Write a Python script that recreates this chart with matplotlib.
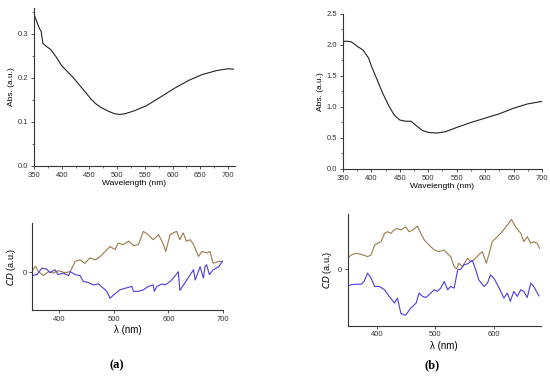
import numpy as np
import matplotlib.pyplot as plt
from matplotlib.ticker import MultipleLocator

plt.rcParams['font.family'] = ['Liberation Sans', 'DejaVu Sans']

# ---- absorbance data (a) ----
abs_a_nm = [350, 355, 360, 363, 366, 372, 380, 390, 400, 420, 440, 453, 462, 471,
            485, 495, 505, 515, 530, 553, 580, 604, 630, 654, 680, 700, 710]
abs_a_val = [0.345, 0.328, 0.312, 0.306, 0.279, 0.272, 0.265, 0.248, 0.228, 0.202,
             0.172, 0.152, 0.141, 0.133, 0.124, 0.119, 0.117, 0.119, 0.125, 0.137,
             0.158, 0.177, 0.195, 0.208, 0.217, 0.221, 0.220]

# ---- absorbance data (b) ----
abs_b_nm = [350, 358, 365, 375, 385, 395, 400, 410, 420, 430, 440, 450, 460, 470,
            480, 490, 500, 515, 530, 550, 575, 600, 625, 650, 675, 700]
abs_b_val = [2.06, 2.06, 2.05, 1.98, 1.92, 1.79, 1.66, 1.44, 1.22, 1.03, 0.87, 0.79,
             0.77, 0.77, 0.69, 0.62, 0.59, 0.58, 0.60, 0.67, 0.75, 0.82, 0.89, 0.98,
             1.05, 1.09]

# ---- CD data (a) ----
cd_a_brown_nm = [350, 356, 362, 371, 380, 389, 398, 410, 420, 429, 438, 447, 456, 466,
                 475, 484, 493, 502, 508, 517, 527, 536, 545, 554, 563, 572, 582, 591,
                 595, 603, 609, 615, 621, 627, 633, 640, 646, 655, 661, 670, 676, 682,
                 692, 699]
cd_a_brown = [0.01, 0.12, 0.01, -0.07, 0.01, -0.02, 0.03, -0.01, 0.01, 0.22, 0.25, 0.18,
              0.29, 0.25, 0.32, 0.42, 0.52, 0.46, 0.59, 0.56, 0.63, 0.54, 0.56, 0.83,
              0.76, 0.66, 0.76, 0.56, 0.42, 0.76, 0.80, 0.83, 0.66, 0.80, 0.63, 0.66,
              0.56, 0.32, 0.42, 0.39, 0.42, 0.18, 0.22, 0.22]
cd_a_blue_nm = [350, 359, 368, 377, 383, 392, 398, 407, 417, 420, 429, 438, 444, 453,
                462, 472, 481, 487, 493, 502, 511, 520, 533, 536, 545, 554, 563, 572,
                574, 579, 588, 594, 603, 609, 618, 621, 630, 640, 646, 649, 658, 664,
                667, 670, 675, 682, 692, 699]
cd_a_blue = [-0.07, -0.05, 0.08, 0.06, -0.01, 0.05, -0.05, -0.02, -0.07, 0.01, -0.05,
             -0.07, -0.19, -0.21, -0.26, -0.24, -0.33, -0.39, -0.53, -0.44, -0.36,
             -0.33, -0.29, -0.39, -0.39, -0.36, -0.29, -0.26, -0.39, -0.29, -0.24,
             -0.26, -0.19, -0.12, 0.01, -0.37, -0.22, -0.05, 0.05, -0.16, 0.11, -0.12,
             0.11, 0.15, -0.05, 0.05, 0.11, 0.22]

# ---- CD data (b) ----
cd_b_brown_nm = [350, 356, 364, 373, 384, 390, 396, 401, 407, 413, 418, 424, 430, 435,
                 441, 449, 455, 461, 469, 475, 481, 489, 498, 506, 515, 521, 526, 532,
                 536, 540, 546, 555, 560, 566, 574, 580, 587, 592, 597, 606, 614, 623,
                 630, 637, 646, 651, 657, 663, 668, 674, 678]
cd_b_brown = [0.20, 0.26, 0.29, 0.27, 0.23, 0.26, 0.44, 0.47, 0.50, 0.65, 0.68, 0.65,
              0.72, 0.74, 0.71, 0.77, 0.68, 0.71, 0.78, 0.65, 0.53, 0.44, 0.35, 0.32,
              0.35, 0.28, 0.23, 0.05, 0.01, 0.11, 0.05, 0.20, 0.14, 0.17, 0.26, 0.32,
              0.11, 0.29, 0.50, 0.59, 0.68, 0.80, 0.90, 0.77, 0.65, 0.50, 0.59, 0.47,
              0.50, 0.47, 0.38]
cd_b_blue_nm = [350, 356, 364, 373, 378, 384, 390, 396, 404, 413, 421, 430, 435, 441,
                449, 458, 467, 472, 478, 484, 489, 498, 503, 509, 515, 521, 526, 532,
                538, 543, 549, 555, 563, 569, 574, 583, 589, 594, 600, 609, 617, 623,
                628, 634, 640, 646, 651, 657, 663, 668, 677]
cd_b_blue = [-0.30, -0.28, -0.27, -0.27, -0.22, -0.07, -0.16, -0.31, -0.31, -0.37,
             -0.49, -0.61, -0.52, -0.80, -0.83, -0.70, -0.61, -0.43, -0.49, -0.51,
             -0.46, -0.37, -0.40, -0.34, -0.22, -0.37, -0.31, -0.34, -0.01, 0.00, 0.08,
             0.10, 0.16, -0.01, -0.19, -0.31, -0.25, -0.10, -0.16, -0.34, -0.52, -0.43,
             -0.58, -0.40, -0.49, -0.37, -0.40, -0.51, -0.25, -0.31, -0.48]

brown = '#9a7a4c'
blue = '#4b3ddc'
tick_fs = 5.5
lab_fs = 6

fig = plt.figure(figsize=(5.5, 3.8), dpi=100)


def style(ax):
    for s in ['top', 'right']:
        ax.spines[s].set_visible(False)
    for s in ['left', 'bottom']:
        ax.spines[s].set_color('#333333')
        ax.spines[s].set_linewidth(0.8)
    ax.tick_params(which='major', length=2.5, width=0.6, labelsize=tick_fs,
                   pad=1.5, colors='#333333')
    ax.tick_params(which='minor', length=1.5, width=0.5, colors='#333333')


# top left
ax1 = fig.add_axes([0.0618, 0.5632, 0.3647, 0.4168])
ax1.plot(abs_a_nm, abs_a_val, color='#222222', lw=0.8)
ax1.set_xlim(350, 712)
ax1.set_ylim(0, 0.36)
ax1.set_xticks([350, 400, 450, 500, 550, 600, 650, 700])
ax1.set_yticks([0.0, 0.1, 0.2, 0.3])
ax1.xaxis.set_minor_locator(MultipleLocator(25))
ax1.yaxis.set_minor_locator(MultipleLocator(0.05))
style(ax1)
ax1.set_xlabel('Wavelength (nm)', fontsize=lab_fs, labelpad=1)
ax1.set_ylabel('Abs. (a.u.)', fontsize=lab_fs, labelpad=2)

# top right
ax2 = fig.add_axes([0.6236, 0.5553, 0.3618, 0.4079])
ax2.plot(abs_b_nm, abs_b_val, color='#222222', lw=0.8)
ax2.set_xlim(350, 700)
ax2.set_ylim(0, 2.5)
ax2.set_xticks([350, 400, 450, 500, 550, 600, 650, 700])
ax2.set_yticks([0.0, 0.5, 1.0, 1.5, 2.0, 2.5])
ax2.xaxis.set_minor_locator(MultipleLocator(25))
ax2.yaxis.set_minor_locator(MultipleLocator(0.25))
style(ax2)
ax2.set_xlabel('Wavelength (nm)', fontsize=lab_fs, labelpad=1)
ax2.set_ylabel('Abs. (a.u.)', fontsize=lab_fs, labelpad=2)

# bottom left
ax3 = fig.add_axes([0.0582, 0.1842, 0.3473, 0.229])
ax3.plot(cd_a_brown_nm, cd_a_brown, color=brown, lw=0.8)
ax3.plot(cd_a_blue_nm, cd_a_blue, color=blue, lw=0.8)
ax3.set_xlim(350, 700)
ax3.set_ylim(-0.77, 1.0)
ax3.set_xticks([400, 500, 600, 700])
ax3.set_yticks([0])
style(ax3)
ax3.set_xlabel('λ (nm)', fontsize=7, labelpad=2)
ax3.set_ylabel(r'$\it{CD}$ (a.u.)', fontsize=lab_fs + 0.5, labelpad=3)

# bottom right
ax4 = fig.add_axes([0.6322, 0.1429, 0.3509, 0.2939])
ax4.plot(cd_b_brown_nm, cd_b_brown, color=brown, lw=0.8)
ax4.plot(cd_b_blue_nm, cd_b_blue, color=blue, lw=0.8)
ax4.set_xlim(350, 680)
ax4.set_ylim(-1.02, 1.0)
ax4.set_xticks([400, 500, 600])
ax4.set_yticks([0])
style(ax4)
ax4.set_xlabel('λ (nm)', fontsize=7, labelpad=2)
ax4.set_ylabel(r'$\it{CD}$ (a.u.)', fontsize=lab_fs + 0.5, labelpad=3)

fig.text(117 / 550, 1 - 365 / 380, '(a)', fontsize=9, fontweight='bold',
         family='Liberation Serif', ha='center', va='center')
fig.text(432 / 550, 1 - 365 / 380, '(b)', fontsize=9, fontweight='bold',
         family='Liberation Serif', ha='center', va='center')

fig.savefig('out.png', dpi=100)
